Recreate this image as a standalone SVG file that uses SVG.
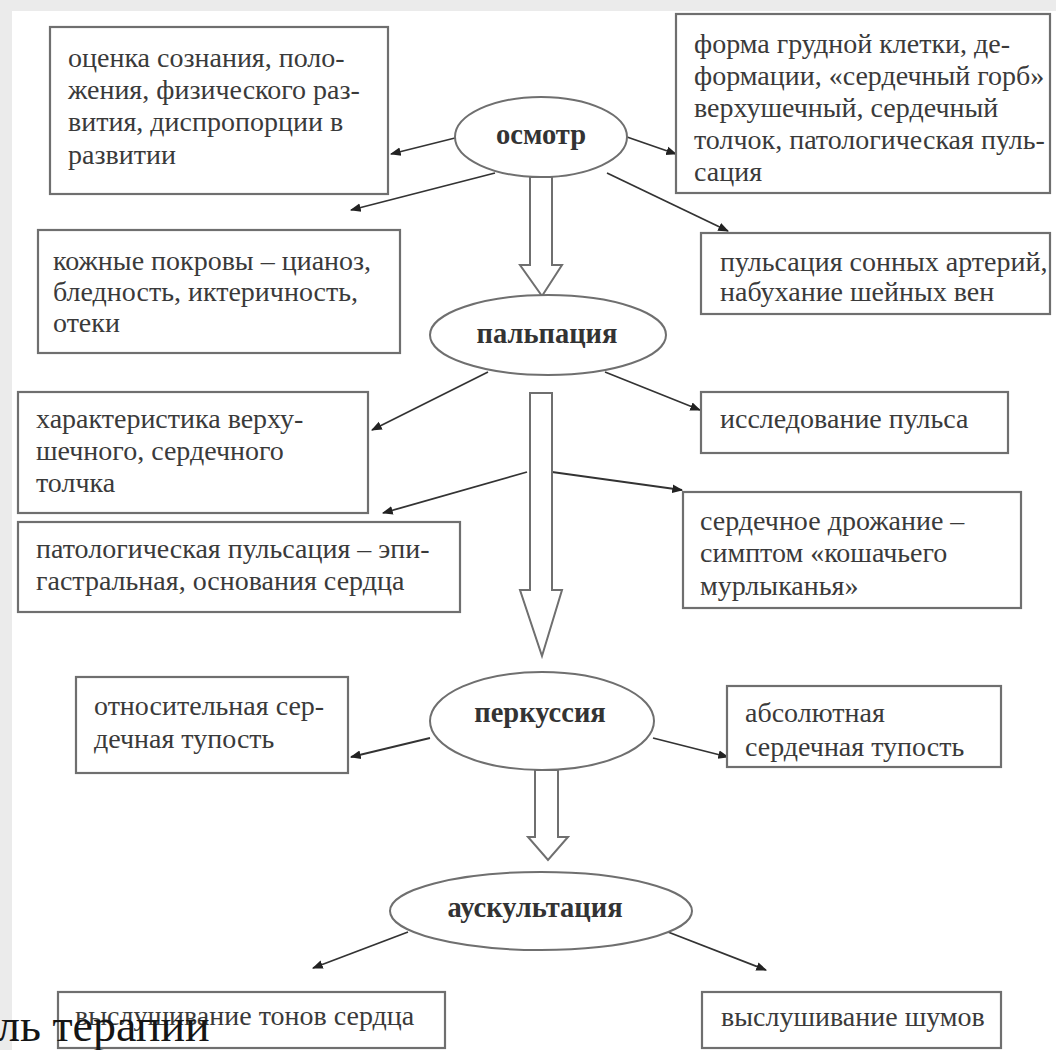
<svg xmlns="http://www.w3.org/2000/svg" width="1056" height="1050" viewBox="0 0 1056 1050">
<style>
.box{fill:#fff;stroke:#6f6f6f;stroke-width:2.2}
.ell{fill:#fff;stroke:#6f6f6f;stroke-width:2}
.t{font-family:"Liberation Serif","Times New Roman",serif;font-size:28px;fill:#3a3a3a}
.b{font-family:"Liberation Serif","Times New Roman",serif;font-size:28.5px;font-weight:bold;fill:#333;text-anchor:middle}
.ln{stroke:#333;stroke-width:1.8;fill:none;marker-end:url(#ah)}
.big{fill:#fff;stroke:#6f6f6f;stroke-width:2}
.ov{font-family:"Liberation Serif","Times New Roman",serif;font-size:46px;fill:#151515}
</style>
<defs>
<marker id="ah" viewBox="0 0 10 10" refX="9" refY="5" markerWidth="6" markerHeight="6" orient="auto" markerUnits="strokeWidth">
<path d="M0,1 L10,5 L0,9 z" fill="#222"/>
</marker>
</defs>
<rect x="0" y="0" width="1056" height="1050" fill="#ebebeb"/>
<rect x="12" y="11" width="1044" height="1039" fill="#ffffff"/>

<g id="connectors">
<line class="ln" x1="455" y1="138" x2="391" y2="154"/>
<line class="ln" x1="627" y1="137" x2="676" y2="154"/>
<line class="ln" x1="495" y1="173" x2="351" y2="210"/>
<line class="ln" x1="607" y1="173" x2="728" y2="231"/>
<line class="ln" x1="488" y1="372" x2="372" y2="430"/>
<line class="ln" x1="605" y1="372" x2="700" y2="410"/>
<line class="ln" x1="527" y1="472" x2="383" y2="513"/>
<line class="ln" x1="552" y1="472" x2="682" y2="490"/>
<line class="ln" x1="430" y1="738" x2="351" y2="757"/>
<line class="ln" x1="653" y1="738" x2="728" y2="757"/>
<line class="ln" x1="408" y1="932" x2="313" y2="968"/>
<line class="ln" x1="668" y1="932" x2="766" y2="970"/>
<polygon class="big" points="530,177 552,177 552,265 562,265 542,296 520,265 530,265"/>
<polygon class="big" points="530,393 552,393 552,590 562,590 542,656 520,590 530,590"/>
<polygon class="big" points="535,770 558,770 558,837 568,837 548,860 528,837 535,837"/>
</g>

<g id="n-osmotr">
<ellipse class="ell" cx="541" cy="137" rx="86" ry="40"/>
<text class="b" x="541" y="144">осмотр</text>
</g>
<g id="n-palpacia">
<ellipse class="ell" cx="548" cy="335" rx="118" ry="40"/>
<text class="b" x="547" y="343">пальпация</text>
</g>
<g id="n-perkussia">
<ellipse class="ell" cx="542" cy="721" rx="112" ry="49"/>
<text class="b" x="540" y="722">перкуссия</text>
</g>
<g id="n-auskultacia">
<ellipse class="ell" cx="541" cy="911" rx="151" ry="39"/>
<text class="b" x="535" y="917">аускультация</text>
</g>

<g id="b-ocenka">
<rect class="box" x="50" y="27" width="338" height="167"/>
<text class="t" x="68" y="67">оценка сознания, поло-</text>
<text class="t" x="68" y="99">жения, физического раз-</text>
<text class="t" x="68" y="131">вития,  диспропорции в</text>
<text class="t" x="68" y="164">развитии</text>
</g>
<g id="b-forma">
<rect class="box" x="676" y="14" width="374" height="179"/>
<text class="t" x="694" y="53">форма грудной клетки, де-</text>
<text class="t" x="694" y="85">формации, «сердечный горб»</text>
<text class="t" x="694" y="117">верхушечный, сердечный</text>
<text class="t" x="694" y="149">толчок, патологическая пуль-</text>
<text class="t" x="694" y="181">сация</text>
</g>
<g id="b-kozha">
<rect class="box" x="38" y="230" width="362" height="123"/>
<text class="t" x="53" y="270">кожные покровы – цианоз,</text>
<text class="t" x="53" y="301">бледность, иктеричность,</text>
<text class="t" x="53" y="332">отеки</text>
</g>
<g id="b-sonnye">
<rect class="box" x="701" y="233" width="349" height="81"/>
<text class="t" x="720" y="271">пульсация сонных артерий,</text>
<text class="t" x="720" y="301">набухание шейных вен</text>
</g>
<g id="b-harakteristika">
<rect class="box" x="18" y="392" width="350" height="121"/>
<text class="t" x="36" y="428">характеристика верху-</text>
<text class="t" x="36" y="460">шечного, сердечного</text>
<text class="t" x="36" y="492">толчка</text>
</g>
<g id="b-puls">
<rect class="box" x="701" y="392" width="307" height="61"/>
<text class="t" x="720" y="428">исследование пульса</text>
</g>
<g id="b-patolog">
<rect class="box" x="18" y="522" width="442" height="90"/>
<text class="t" x="36" y="558">патологическая пульсация – эпи-</text>
<text class="t" x="36" y="590">гастральная, основания сердца</text>
</g>
<g id="b-drozhanie">
<rect class="box" x="683" y="492" width="338" height="116"/>
<text class="t" x="700" y="530">сердечное дрожание –</text>
<text class="t" x="700" y="562">симптом «кошачьего</text>
<text class="t" x="700" y="595">мурлыканья»</text>
</g>
<g id="b-otnosit">
<rect class="box" x="76" y="677" width="272" height="96"/>
<text class="t" x="94" y="715">относительная сер-</text>
<text class="t" x="94" y="748">дечная тупость</text>
</g>
<g id="b-absolut">
<rect class="box" x="727" y="686" width="274" height="81"/>
<text class="t" x="745" y="722">абсолютная</text>
<text class="t" x="745" y="756">сердечная тупость</text>
</g>
<g id="b-tony">
<rect class="box" x="58" y="992" width="387" height="56"/>
<text class="t" x="75" y="1025">выслушивание тонов сердца</text>
</g>
<g id="b-shumy">
<rect class="box" x="702" y="992" width="299" height="56"/>
<text class="t" x="721" y="1026">выслушивание шумов</text>
</g>

<text class="ov" x="-3" y="1041">ль терапии</text>
</svg>
